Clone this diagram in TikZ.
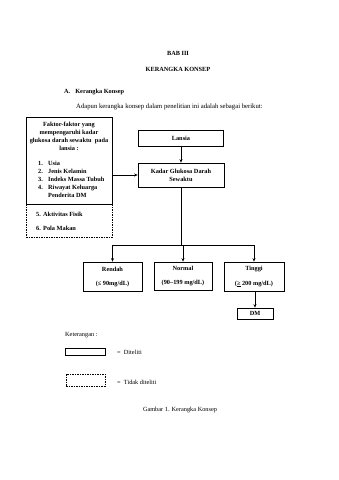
\documentclass[tikz,border=0pt]{standalone}
\usepackage{fontspec}
\setmainfont{Liberation Serif}
\usetikzlibrary{arrows.meta}
\begin{document}
\begin{tikzpicture}[x=1pt,y=-1pt,
  box/.style={draw, line width=0.7pt, inner sep=0pt},
  dbox/.style={draw, line width=0.6pt, dash pattern=on 1.5pt off 1pt, inner sep=0pt},
  txt/.style={font=\fontsize{6.3}{8.2}\selectfont\bfseries, inner sep=0pt},
  ptxt/.style={font=\fontsize{6.3}{8.2}\selectfont, inner sep=0pt},
  arr/.style={-{Stealth[length=3.5pt,width=3pt]}, line width=0.6pt},
  ln/.style={line width=0.7pt}]
\useasboundingbox (0,0) rectangle (339,480);
% headings
\node[txt] (bab) at (178,53) {BAB III};
\node[txt] (judul) at (178,69) {KERANGKA KONSEP};
\node[txt, anchor=west] (subA) at (64,92) {A.\hspace{5pt}Kerangka Konsep};
\node[ptxt, anchor=west, font=\fontsize{6.7}{8.2}\selectfont] (intro) at (76,107) {Adapun kerangka konsep dalam penelitian ini adalah sebagai berikut:};
% left factor box
\node[box, minimum width=86pt, minimum height=87pt] (fak) at (69,160.5) {};
\node[dbox, minimum width=86pt, minimum height=33pt] (fakd) at (69,220.5) {};
\node[txt, align=center] (fakh) at (69,136.5) {Faktor-faktor yang\\mempengaruhi kadar\\glukosa darah sewaktu\ \ pada\\lansia :};
\node[txt, anchor=west] (f1) at (38,163) {1.};
\node[txt, anchor=west] (f1t) at (48,163) {Usia};
\node[txt, anchor=west] (f2) at (38,171.2) {2.};
\node[txt, anchor=west] (f2t) at (48,171.2) {Jenis Kelamin};
\node[txt, anchor=west] (f3) at (38,179.4) {3.};
\node[txt, anchor=west] (f3t) at (48,179.4) {Indeks Massa Tubuh};
\node[txt, anchor=west] (f4) at (38,187.6) {4.};
\node[txt, anchor=west] (f4t) at (48,187.6) {Riwayat Keluarga};
\node[txt, anchor=west] (f4u) at (48,195.8) {Penderita DM};
\node[txt, anchor=west] (f5) at (36,214) {5.};
\node[txt, anchor=west] (f5t) at (43,214) {Aktivitas Fisik};
\node[txt, anchor=west] (f6) at (36,228) {6.};
\node[txt, anchor=west] (f6t) at (43,228) {Pola Makan};
% center column
\node[box, minimum width=85pt, minimum height=16pt, txt] (lansia) at (181,138) {Lansia};
\node[box, minimum width=86pt, minimum height=24pt, txt, align=center] (kadar) at (181,175) {Kadar Glukosa Darah\\Sewaktu};
% categories
\node[box, minimum width=59pt, minimum height=29pt] (rendah) at (112.5,276.5) {};
\node[txt] (rendaht) at (112.5,269) {Rendah};
\node[txt] (rendahv) at (112.5,284) {(≤ 90mg/dL)};
\node[box, minimum width=58pt, minimum height=28pt] (normal) at (183,276) {};
\node[txt] (normalt) at (183,268.5) {Normal};
\node[txt] (normalv) at (183,283) {(90–199 mg/dL)};
\node[box, minimum width=60pt, minimum height=29pt] (tinggi) at (254,276.5) {};
\node[txt] (tinggit) at (254,269) {Tinggi};
\node[txt] (tinggiv) at (254,284) {(\underline{≥} 200 mg/dL)};
\node[box, minimum width=36pt, minimum height=11pt, txt] (dm) at (255,313.5) {DM};
% connectors
\draw[arr] (fak.east |- kadar.west) -- (kadar.west);
\draw[arr] (lansia.south) -- (kadar.north);
\coordinate (j) at (181,245);
\draw[ln] (kadar.south) -- (j);
\draw[ln] (rendah.north |- j) -- (tinggi.north |- j);
\draw[arr] (rendah.north |- j) -- (rendah.north);
\draw[arr] (normal.north |- j) -- (normal.north);
\draw[arr] (tinggi.north |- j) -- (tinggi.north);
\draw[arr] (tinggi.south -| dm.north) -- (dm.north);
% legend
\node[ptxt, anchor=west] (ket) at (65,335) {Keterangan :};
\node[box, minimum width=40pt, minimum height=7pt] (leg1) at (85,352) {};
\node[ptxt, anchor=west] (leg1t) at (117,352) {=\ \ Diteliti};
\node[dbox, minimum width=39pt, minimum height=12pt] (leg2) at (85.5,380) {};
\node[ptxt, anchor=west] (leg2t) at (117,382) {=\ \ Tidak diteliti};
\node[ptxt] (cap) at (180,410) {Gambar 1. Kerangka Konsep};
\end{tikzpicture}
\end{document}
